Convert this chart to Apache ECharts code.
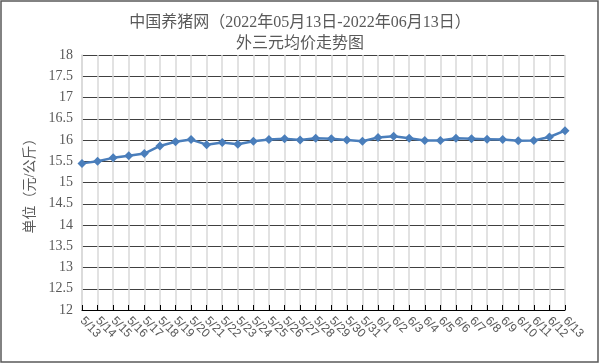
<!DOCTYPE html>
<html>
<head>
<meta charset="utf-8">
<script src="https://cdn.jsdelivr.net/npm/echarts@6/dist/echarts.min.js"></script>
<style>html,body{margin:0;padding:0;background:#fff}#c{width:600px;height:364px}</style>
</head>
<body>
<div id="c"></div>
<script>
const categories = ['5/13','5/14','5/15','5/16','5/17','5/18','5/19','5/20','5/21','5/22','5/23','5/24','5/25','5/26','5/27','5/28','5/29','5/30','5/31','6/1','6/2','6/3','6/4','6/5','6/6','6/7','6/8','6/9','6/10','6/11','6/12','6/13'];
const prices = [15.45,15.50,15.58,15.63,15.68,15.86,15.96,16.01,15.89,15.94,15.90,15.97,16.01,16.03,16.00,16.04,16.03,16.00,15.97,16.06,16.09,16.04,15.99,15.99,16.04,16.03,16.02,16.01,15.98,15.99,16.07,16.22];
const yMin = 12, yMax = 18, yStep = 0.5;
const titleLines = ['中国养猪网（2022年05月13日-2022年06月13日）', '外三元均价走势图'];
const yName = '单位（元/公斤）';

const chart = echarts.init(document.getElementById('c'), null, {renderer: 'canvas'});
const serif = "'Liberation Serif', 'Noto Sans CJK SC', serif";
chart.setOption({
  animation: false,
  backgroundColor: '#fff',
  graphic: [{
    type: 'rect', shape: {x: 1, y: 1, width: 597, height: 361},
    style: {fill: 'none', stroke: '#595959', lineWidth: 1.5}, silent: true, z: 100
  }],
  title: {
    text: titleLines.join('\n'),
    left: 'center', top: 7,
    textStyle: {fontFamily: serif, fontSize: 16, fontWeight: 'normal', color: '#595959', lineHeight: 21, align: 'center'}
  },
  grid: {left: 82, right: 35, top: 55, bottom: 54, containLabel: false},
  xAxis: {
    type: 'category', data: categories, boundaryGap: false,
    axisLine: {lineStyle: {color: '#000', width: 1}},
    axisTick: {inside: true, length: 5, lineStyle: {color: '#000'}},
    axisLabel: {rotate: -45, interval: 0, fontSize: 12, color: '#595959', fontFamily: "'Liberation Sans', Arial, sans-serif", margin: 9},
    splitLine: {show: true, lineStyle: {color: '#d9d9d9', width: 1.5}}
  },
  yAxis: {
    type: 'value', min: yMin, max: yMax, interval: yStep,
    name: yName, nameLocation: 'middle', nameGap: 44, nameRotate: 90,
    nameTextStyle: {fontFamily: serif, fontSize: 14, color: '#595959'},
    axisLine: {show: true, lineStyle: {color: '#d9d9d9', width: 1.5}},
    axisTick: {show: false},
    axisLabel: {fontFamily: serif, fontSize: 14, color: '#595959', margin: 9},
    splitLine: {show: true, lineStyle: {color: '#404040', width: 1}}
  },
  series: [{
    type: 'line', data: prices,
    symbol: 'diamond', symbolSize: 9,
    lineStyle: {color: '#4a7ebb', width: 2.5},
    itemStyle: {color: '#4a7ebb'},
    z: 5
  }]
});
</script>
</body>
</html>
